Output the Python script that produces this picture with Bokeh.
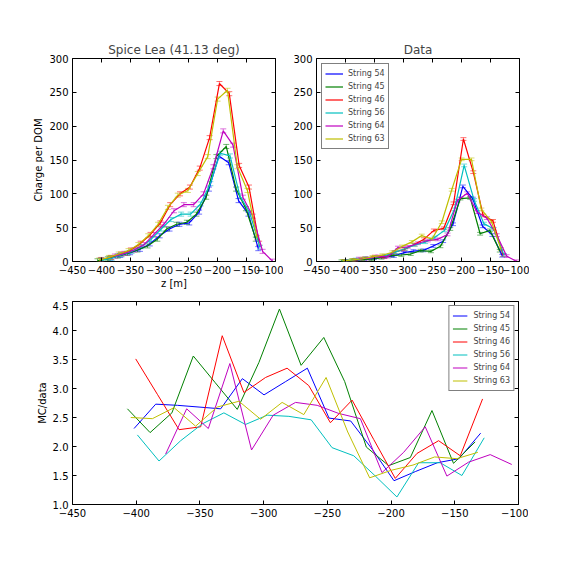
import numpy as np
from bokeh.plotting import figure
from bokeh.models import (Range1d, FixedTicker, CustomJSTickFormatter, Whisker, TeeHead,
                          ColumnDataSource, Legend, LegendItem, LinearAxis)
from bokeh.layouts import column, row
from bokeh.embed import file_html
from bokeh.resources import INLINE

FONT = "DejaVu Sans"

labels = ["String 54", "String 45", "String 46", "String 56", "String 64", "String 63"]
colors = ["#0000ff", "#008000", "#ff0000", "#00bfbf", "#bf00bf", "#bfbf00"]

# depth positions (z [m]) per string
z_54 = [-401.7, -384.7, -367.7, -350.7, -333.7, -316.7, -299.7, -282.7, -265.7, -248.7, -231.7, -214.7, -197.7, -180.7, -163.7, -146.7, -129.7]
z_45 = [-406.9, -389.1, -372.0, -355.2, -338.0, -320.7, -303.7, -287.6, -270.6, -252.8, -236.4, -219.4, -201.9, -184.9, -167.9, -151.0, -134.0]
z_46 = [-400.4, -383.4, -366.4, -349.4, -332.5, -315.5, -298.5, -281.6, -264.6, -247.6, -230.6, -213.6, -196.7, -179.7, -162.7, -145.7, -128.2]
z_56 = [-399.1, -382.1, -365.1, -348.1, -331.2, -314.2, -297.2, -280.2, -262.7, -246.3, -229.3, -212.3, -195.4, -178.4, -161.4, -144.4, -126.9]
z_64 = [-376.9, -360.4, -343.4, -326.5, -309.5, -292.5, -275.0, -258.0, -241.1, -224.1, -207.1, -190.1, -173.2, -156.2, -139.2, -122.2, -105.3]
z_63 = [-404.3, -387.3, -370.3, -353.4, -336.4, -319.4, -302.4, -285.5, -268.5, -251.0, -234.0, -216.8, -199.8, -182.8, -165.8, -148.4, -131.9]

# simulated charge per DOM (Spice Lea)
mc_54 = [2, 5, 9, 13, 18, 26, 38, 48, 55, 57, 73, 107, 156, 146, 90, 70, 19]
mc_45 = [1, 4, 8, 12, 17, 23, 33, 48, 55, 58, 70, 95, 155, 170, 107, 78, 33]
mc_46 = [3, 6, 11, 17, 27, 40, 57, 84, 100, 110, 138, 183, 263, 248, 142, 110, 27]
mc_56 = [2, 5, 10, 15, 22, 33, 48, 62, 70, 70, 85, 115, 160, 156, 97, 72, 21]
mc_64 = [8, 12, 17, 25, 40, 55, 75, 84, 84, 100, 140, 193, 172, 95, 67, 15, 0.5]
mc_63 = [2, 6, 11, 16, 25, 38, 55, 80, 98, 105, 130, 155, 240, 253, 140, 105, 35]

# measured charge per DOM (Data)
data_54 = [0.9, 1.8, 3.3, 4.9, 6.8, 8.2, 13, 15.4, 16.4, 23, 30, 55, 111, 93, 52, 39, 8.5]
data_45 = [0.4, 1.8, 3.1, 3.4, 5.5, 8.7, 9.6, 11, 16, 15, 22.4, 48, 93, 94, 41, 46, 16]
data_46 = [0.9, 2.1, 4.8, 7.3, 6.9, 13.7, 17.9, 25, 33, 46, 49, 86, 181, 132, 68, 60, 9.6]
data_56 = [0.9, 2.9, 4.8, 6.3, 8.5, 13.9, 18.9, 24.6, 28.5, 35.4, 46, 77, 142, 91, 56, 48, 9.8]
data_64 = [4.3, 4.5, 7.4, 7.3, 20.6, 21.7, 27, 31, 32.7, 40, 90, 101, 73, 64, 39, 8, 0.3]
data_63 = [0.8, 2.4, 4.1, 6.8, 9.3, 13.7, 22.3, 29, 38.4, 33, 58, 106, 151, 151, 77, 59, 18.4]

# MC/data ratio
ratio_54 = [2.31, 2.73, 2.71, 2.68, 2.65, 3.17, 2.89, 3.12, 3.35, 2.49, 2.44, 1.95, 1.41, 1.57, 1.72, 1.79, 2.23]
ratio_45 = [2.65, 2.24, 2.58, 3.56, 3.10, 2.64, 3.45, 4.37, 3.40, 3.88, 3.12, 1.99, 1.67, 1.81, 2.62, 1.71, 2.08]
ratio_46 = [3.51, 2.90, 2.29, 2.34, 3.91, 2.93, 3.19, 3.35, 3.05, 2.41, 2.80, 2.12, 1.45, 1.88, 2.10, 1.84, 2.82]
ratio_56 = [2.20, 1.75, 2.10, 2.39, 2.58, 2.38, 2.54, 2.52, 2.46, 1.98, 1.84, 1.49, 1.13, 1.72, 1.72, 1.50, 2.15]
ratio_64 = [1.87, 2.65, 2.31, 3.43, 1.94, 2.54, 2.76, 2.71, 2.57, 2.48, 1.55, 1.90, 2.34, 1.49, 1.73, 1.86, 1.69]
ratio_63 = [2.50, 2.48, 2.67, 2.35, 2.68, 2.78, 2.47, 2.76, 2.55, 3.19, 2.25, 1.46, 1.59, 1.68, 1.82, 1.79, 1.90]

# error bar half-widths (estimated)
mc_err = 3.0
data_err = 2.0

x_ticks = [-450, -400, -350, -300, -250, -200, -150, -100]
charge_ticks = [0, 50, 100, 150, 200, 250, 300]
ratio_ticks = [1.0, 1.5, 2.0, 2.5, 3.0, 3.5, 4.0, 4.5]

zs = [z_54, z_45, z_46, z_56, z_64, z_63]
mcs = [mc_54, mc_45, mc_46, mc_56, mc_64, mc_63]
datas = [data_54, data_45, data_46, data_56, data_64, data_63]
ratios = [ratio_54, ratio_45, ratio_46, ratio_56, ratio_64, ratio_63]

xfmt_code = "return (tick < 0 ? '\u2212' : '') + Math.abs(tick).toFixed(0);"
blank_code = "return '';"


def style(p, xt, yt, yfmt=None, xlabel=None, ylabel=None):
    p.outline_line_color = "black"
    p.outline_line_width = 1
    p.outline_line_alpha = 1
    p.xgrid.visible = False
    p.ygrid.visible = False
    p.background_fill_color = "white"
    p.border_fill_color = "white"
    bottom_ax = p.below[0]
    left_ax = p.left[0]
    bottom_ax.ticker = FixedTicker(ticks=xt)
    left_ax.ticker = FixedTicker(ticks=yt)
    bottom_ax.formatter = CustomJSTickFormatter(code=xfmt_code)
    if yfmt:
        left_ax.formatter = CustomJSTickFormatter(code=yfmt)
    if xlabel:
        bottom_ax.axis_label = xlabel
    if ylabel:
        left_ax.axis_label = ylabel
    # mirror ticks on top and right
    top_ax = LinearAxis(ticker=FixedTicker(ticks=xt), formatter=CustomJSTickFormatter(code=blank_code))
    right_ax = LinearAxis(ticker=FixedTicker(ticks=yt), formatter=CustomJSTickFormatter(code=blank_code))
    p.add_layout(top_ax, "above")
    p.add_layout(right_ax, "right")
    for ax in [bottom_ax, left_ax, top_ax, right_ax]:
        ax.major_tick_in = 4
        ax.major_tick_out = 0
        ax.minor_tick_in = 0
        ax.minor_tick_out = 0
        ax.axis_line_color = None
        ax.major_tick_line_color = "black"
        ax.major_label_text_font = FONT
        ax.major_label_text_font_size = "10px"
        ax.major_label_text_color = "black"
        ax.major_label_standoff = 4
        ax.axis_label_text_font = FONT
        ax.axis_label_text_font_size = "10px"
        ax.axis_label_text_font_style = "normal"
        ax.axis_label_text_color = "black"
    bottom_ax.axis_label_standoff = 1
    left_ax.axis_label_standoff = 2
    top_ax.major_label_standoff = 0
    right_ax.major_label_standoff = 0
    p.title.text_font = FONT
    p.title.text_font_size = "12px"
    p.title.text_font_style = "normal"
    p.title.align = "center"
    p.title.standoff = 3


def charge_panel(title, values, err, left_border, right_border, xlabel=None, ylabel=None, legend=False):
    p = figure(title=title, frame_width=203, frame_height=203,
               x_range=Range1d(-450, -100), y_range=Range1d(0, 300),
               min_border_left=left_border, min_border_right=right_border,
               min_border_top=58, min_border_bottom=40,
               output_backend="svg", toolbar_location=None)
    items = []
    for z, v, c, lab in zip(zs, values, colors, labels):
        v = np.array(v, dtype=float)
        src = ColumnDataSource(dict(x=z, y=v, lo=v - err, hi=v + err))
        r = p.line("x", "y", source=src, line_color=c, line_width=1.2)
        w = Whisker(base="x", upper="hi", lower="lo", source=src, dimension="height",
                    line_color=c, line_alpha=0.55, line_width=1,
                    upper_head=TeeHead(size=6, line_color=c, line_alpha=0.55, line_width=1),
                    lower_head=TeeHead(size=6, line_color=c, line_alpha=0.55, line_width=1))
        p.add_layout(w)
        items.append(LegendItem(label=lab, renderers=[r]))
    style(p, x_ticks, charge_ticks, xlabel=xlabel, ylabel=ylabel)
    if legend:
        lg = Legend(items=items, location="top_left", margin=5, padding=3, spacing=0,
                    glyph_width=18, glyph_height=13, label_height=13, label_standoff=5,
                    label_text_font=FONT, label_text_font_size="8px",
                    border_line_color="black", border_line_width=1,
                    background_fill_color="white", background_fill_alpha=1)
        p.add_layout(lg)
    return p


p1 = charge_panel("Spice Lea (41.13 deg)", mcs, mc_err, 72, 8, xlabel="z [m]", ylabel="Charge per DOM")
p2 = charge_panel("Data", datas, data_err, 33, 10, legend=True)

p3 = figure(frame_width=446, frame_height=203,
            x_range=Range1d(-450, -100), y_range=Range1d(1.0, 4.5),
            min_border_left=72, min_border_right=10, min_border_top=0, min_border_bottom=30,
            output_backend="svg", toolbar_location=None)
items3 = []
for z, v, c, lab in zip(zs, ratios, colors, labels):
    r = p3.line(z, v, line_color=c, line_width=1)
    items3.append(LegendItem(label=lab, renderers=[r]))
style(p3, x_ticks, ratio_ticks, yfmt="return tick.toFixed(1);", ylabel="MC/data")
lg3 = Legend(items=items3, location="top_right", margin=4, padding=3, spacing=0,
             glyph_width=15, glyph_height=13, label_height=13, label_standoff=6,
             label_text_font=FONT, label_text_font_size="8px",
             border_line_color="black", border_line_width=1,
             background_fill_color="white", background_fill_alpha=1)
p3.add_layout(lg3)

layout = column(row(p1, p2), p3)
open("out.html", "w").write(file_html(layout, INLINE))
